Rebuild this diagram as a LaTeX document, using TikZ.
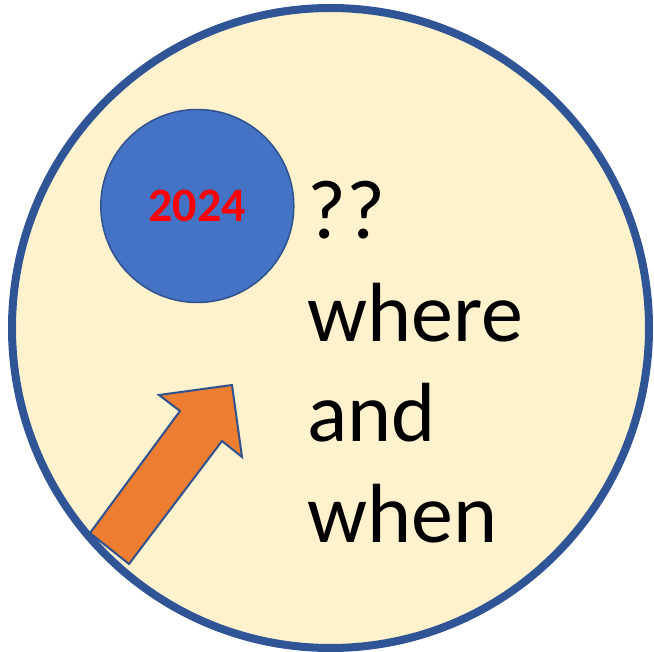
\documentclass[tikz,border=0pt]{standalone}
\usepackage{fontspec}
\setmainfont{Carlito}
\definecolor{bigfill}{HTML}{FFF2CC}
\definecolor{bigline}{HTML}{2F5597}
\definecolor{smallfill}{HTML}{4472C4}
\definecolor{smallline}{HTML}{2F528F}
\definecolor{arrowfill}{HTML}{ED7D31}
\begin{document}
\begin{tikzpicture}[x=1pt,y=-1pt,
  bigtext/.style={anchor=base west,inner sep=0pt,font=\fontsize{84}{100}\selectfont,text=black},
  yeartext/.style={inner sep=0pt,font=\fontsize{48}{57}\selectfont\bfseries,text=red}]
\useasboundingbox (0,0) rectangle (654,652);
\draw[bigline,line width=8pt,fill=bigfill] (330.5,328) ellipse [x radius=318.5,y radius=320];
\node[circle,draw=smallline,line width=1.5pt,fill=smallfill,minimum size=193pt,inner sep=0pt] (year) at (197.3,206) {};
\node[yeartext] (yeartxt) at (year.center) {2024};
\draw[smallline,line width=2pt,fill=arrowfill,line join=miter]
  (232,385) -- (159,395) -- (180,411) -- (90,533) -- (129,564) -- (222,441) -- (242,457) -- cycle;
\node[bigtext] (q) at (307,239) {??};
\node[bigtext] (where) at (307,342) {where};
\node[bigtext] (and) at (307,442) {and};
\node[bigtext] (when) at (307,542) {when};
\end{tikzpicture}
\end{document}
